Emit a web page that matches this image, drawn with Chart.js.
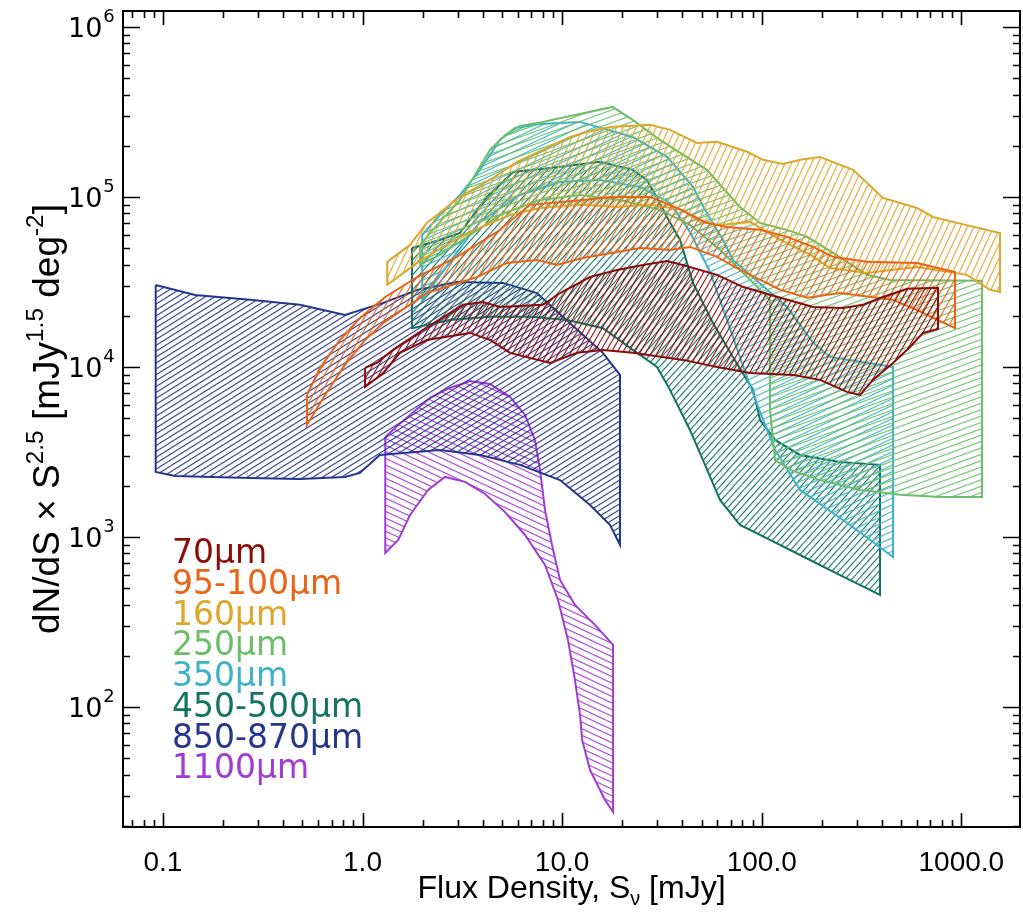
<!DOCTYPE html>
<html><head><meta charset="utf-8">
<script src="https://cdn.jsdelivr.net/npm/chart.js@4.4.1/dist/chart.umd.min.js"></script>
<style>html,body{margin:0;padding:0;background:#fff}</style>
</head><body>
<canvas id="c" width="1023" height="915"></canvas>
<script>
// ---------- data (flux density mJy, dN/dS*S^2.5) ----------
const xTickValues = [0.1, 1, 10, 100, 1000];
const xTickLabels = ['0.1', '1.0', '10.0', '100.0', '1000.0'];
const yTickValues = [1e2, 1e3, 1e4, 1e5, 1e6];
const yTickExponents = ['2', '3', '4', '5', '6'];
const seriesLabels = ['70μm', '95-100μm', '160μm', '250μm', '350μm', '450-500μm', '850-870μm', '1100μm'];

const upper70 = [[1.03,9870],[1.18,10560],[1.42,12590],[2.01,16500],[3.19,23200],[4.02,24100],[4.88,22500],[8.02,23200],[9.76,27200],[13.8,33800],[18.8,37200],[25.4,39800],[33.5,42000],[40.3,39800],[59.7,34800],[80.5,29600],[124,25500],[181,22500],[255,22200],[322,23200],[405,25800],[535,28800],[764,29200]];
const lower70 = [[1.03,7630],[1.27,9220],[1.54,12100],[2.10,14400],[3.46,15850],[4.35,14400],[5.48,12100],[8.70,10560],[11.9,12100],[16.0,12590],[22.6,12100],[40.3,11000],[59.7,10000],[87.4,9220],[144,8970],[196,8390],[267,7130],[311,6840],[361,8390],[424,9870],[455,10560],[553,13100],[643,15850],[764,16700]];

const upper100 = [[0.527,6840],[0.612,9870],[0.771,14400],[0.971,19400],[1.30,25800],[1.88,33800],[2.97,44400],[4.72,62200],[6.90,89800],[12.7,96000],[17.4,100000],[27.6,100000],[37.6,86100],[53.2,70300],[67.0,66600],[98.1,64000],[134,58200],[181,50800],[228,44400],[337,41500],[600,40900],[930,36200]];
const lower100 = [[0.527,4560],[0.649,6840],[0.817,10270],[1.03,14400],[1.27,18100],[2.10,27200],[3.75,33800],[5.30,40900],[7.48,42600],[9.43,39800],[12.7,43700],[24.6,50100],[34.7,48800],[43.7,50800],[59.7,44400],[77.8,37200],[124,28400],[169,25500],[247,27200],[378,25500],[455,24800],[600,21600],[930,16900]];

const upper160 = [[1.33,41500],[1.73,52200],[2.10,70300],[3.08,100000],[4.51,129400],[5.94,160700],[8.02,188900],[10.96,225300],[12.7,237800],[17.4,258000],[27.6,265400],[34.7,247900],[47.4,207800],[59.7,210700],[84.4,184200],[101.6,165300],[128,156300],[156,165300],[196,171900],[287,144300],[405,98600],[600,86100],[722,76200],[908,71300],[1563,61400]];
const lower160 = [[1.33,30400],[1.88,40900],[2.74,53600],[3.88,65700],[5.48,78300],[7.75,86100],[12.7,89800],[18.8,87300],[27.6,89800],[40.3,83900],[49.1,71300],[61.8,68400],[87.4,71300],[124,55800],[175,45600],[220,38200],[337,35700],[600,38700],[1067,34800],[1393,28400],[1563,27600]];

const upper250 = [[1.94,52200],[2.44,71300],[3.08,96000],[3.66,134600],[4.35,188900],[5.18,231500],[6.15,261800],[8.02,276200],[11.6,303500],[17.9,338200],[22.6,283800],[30.9,216300],[53.2,144300],[77.8,87300],[98.1,70300],[134,64000],[169,58200],[228,46900],[337,34800],[439,32500],[1270,32100]];
const lower250 = [[1.94,39800],[2.44,45600],[3.46,59700],[4.88,78300],[7.75,96000],[12.3,102700],[19.5,96000],[30.9,83900],[43.7,68400],[61.8,48800],[87.4,32500],[110,24800],[110,5590],[116.6,2840],[139,2480],[196,2160],[311,1890],[493,1770],[782,1720],[1270,1720]];

const upper350 = [[1.99,59700],[2.44,78300],[3.08,102700],[3.88,144300],[4.88,216300],[5.81,254600],[7.75,268700],[12.3,276200],[22.6,225300],[33.5,171900],[45.3,114500],[52.0,83900],[64.0,55800],[71.8,42600],[134,22500],[181,13850],[220,11450],[455,10000]];
const lower350 = [[1.99,24800],[2.74,41500],[3.88,71300],[6.15,102700],[9.76,122400],[15.5,125900],[24.6,114500],[34.7,92200],[43.7,62200],[55.1,36200],[67.0,18900],[82.5,9350],[98.1,5430],[116.6,3250],[155.6,1890],[277,1176],[455,762]];

const upper500 = [[1.77,50100],[2.44,55800],[3.08,61400],[4.20,100000],[5.68,140300],[8.70,148100],[15.5,160700],[22.6,144300],[26.6,125900],[30.9,92200],[33.5,76200],[39.0,55800],[45.3,31200],[57.0,18100],[71.8,11450],[90.5,7330],[98.1,4875],[116.6,3720],[155.6,3035],[246.8,2760],[391.5,2655]];
const lower500 = [[1.77,16900],[2.74,18900],[4.35,19700],[6.90,19700],[10.6,18900],[16.0,16900],[22.6,12590],[29.9,10000],[34.7,7330],[43.7,4260],[52.0,2655],[61.8,1650],[77.8,1176],[110,960],[155.6,783],[246.8,597],[391.5,456]];

const upper850 = [[0.092,30300],[0.145,26500],[0.273,24800],[0.486,23200],[0.817,20200],[1.27,23800],[1.88,28400],[2.97,31600],[5.06,31200],[7.48,27200],[10.1,19700],[16.0,12100],[19.5,8970]];
const lower850 = [[0.092,2410],[0.115,2285],[0.273,2225],[0.486,2190],[0.817,2255],[0.971,2380],[1.22,3035],[2.44,3250],[3.88,3035],[6.15,2655],[9.76,2160],[13.8,1540],[17.4,1176],[19.5,898]];

const upper1100 = [[1.30,3875],[1.51,4560],[1.73,5220],[2.18,6580],[2.74,7520],[3.46,8270],[4.35,7940],[5.48,6670],[6.52,5220],[7.31,3720],[7.75,2480],[8.21,1440],[8.90,898],[9.76,559],[11.6,398],[14.6,304],[18.0,232]];
const lower1100 = [[1.30,805],[1.51,960],[1.73,1347],[2.13,1890],[2.59,2255],[3.26,2110],[4.11,1790],[5.18,1400],[6.52,1027],[8.21,684],[9.54,426],[10.7,248],[11.6,144],[12.3,89.7],[12.6,64],[13.8,42.6],[16.4,28.4],[18.0,24.1]];

// ---------- styles ----------
const bandColors = ['#8c0b0b', '#ea6417', '#dda72b', '#6cbf68', '#3fb2c9', '#147363', '#25378c', '#a13bd6'];
const hatchAngles = [60, 60, 65, 20, 25, 48, 32, -25];
const hatchGaps = [5, 6, 6, 6, 6, 5, 5, 6];

const bands = [[upper70, lower70], [upper100, lower100], [upper160, lower160], [upper250, lower250],
  [upper350, lower350], [upper500, lower500], [upper850, lower850], [upper1100, lower1100]];

function polygon(u, l) {
  return u.concat(l.slice().reverse(), [u[0]]).map(([x, y]) => ({x, y}));
}
function hatch(color, angle, gap) {
  const t = document.createElement('canvas');
  t.width = 16; t.height = gap;
  const g = t.getContext('2d');
  g.fillStyle = color;
  g.fillRect(0, 0, 16, 1.1);
  const p = g.createPattern(t, 'repeat');
  p.setTransform(new DOMMatrix().rotateSelf(-angle));
  return p;
}

function drawRuns(ctx, runs, size, family, cx, cy, supScale) {
  const fs = m => (m ? size * supScale : size) + 'px ' + family;
  const widths = runs.map(([t, m]) => { ctx.font = fs(m); return ctx.measureText(t).width; });
  const total = widths.reduce((a, b) => a + b, 0);
  let x = cx - total / 2;
  runs.forEach(([t, m], i) => {
    ctx.font = fs(m);
    const dy = m === 1 ? -size * 0.42 : (m === -1 ? size * 0.22 : 0);
    ctx.fillText(t, x, cy + dy);
    x += widths[i];
  });
}

const framePlugin = {
  id: 'frame',
  afterDraw(chart) {
    const {ctx, chartArea: a, scales: {x, y}} = chart;
    ctx.save();
    ctx.strokeStyle = '#000';
    ctx.lineWidth = 1.6;
    ctx.beginPath();
    for (let e = -2; e <= 3; e++) for (let m = 1; m <= 9; m++) {
      const v = m * Math.pow(10, e);
      if (v < x.min || v > x.max) continue;
      const px = Math.round(x.getPixelForValue(v)) + 0.5;
      const len = m === 1 ? 14 : 7;
      ctx.moveTo(px, a.bottom); ctx.lineTo(px, a.bottom - len);
      ctx.moveTo(px, a.top); ctx.lineTo(px, a.top + len);
    }
    for (let e = 1; e <= 6; e++) for (let m = 1; m <= 9; m++) {
      const v = m * Math.pow(10, e);
      if (v < y.min || v > y.max) continue;
      const py = Math.round(y.getPixelForValue(v)) + 0.5;
      const len = m === 1 ? 17 : 7;
      ctx.moveTo(a.left, py); ctx.lineTo(a.left + len, py);
      ctx.moveTo(a.right, py); ctx.lineTo(a.right - len, py);
    }
    ctx.stroke();
    ctx.lineWidth = 2;
    ctx.strokeRect(a.left, a.top, a.right - a.left, a.bottom - a.top);

    ctx.fillStyle = '#000';
    ctx.textBaseline = 'alphabetic';

    // x tick labels
    ctx.font = '28px Liberation Sans';
    ctx.textAlign = 'center';
    xTickValues.forEach((v, i) => {
      ctx.fillText(xTickLabels[i], x.getPixelForValue(v), 871);
    });
    // y tick labels
    ctx.textAlign = 'left';
    yTickValues.forEach((v, i) => {
      const py = y.getPixelForValue(v);
      ctx.font = '27px DejaVu Sans';
      ctx.fillText('10', 68, py + 10);
      const w = ctx.measureText('10').width;
      ctx.font = '18px DejaVu Sans';
      ctx.fillText(yTickExponents[i], 68 + w + 1, py - 5);
    });

    // axis titles
    ctx.textAlign = 'left';
    drawRuns(ctx, [['Flux Density, S', 0], ['ν', -1], [' [mJy]', 0]], 32, 'Liberation Sans', (a.left + a.right) / 2, 898, 0.62);
    ctx.save();
    ctx.translate(59, (a.top + a.bottom) / 2);
    ctx.rotate(-Math.PI / 2);
    drawRuns(ctx, [['dN/dS × S', 0], ['2.5', 1], [' [mJy', 0], ['1.5', 1], [' deg', 0], ['-2', 1], [']', 0]], 37, 'Liberation Sans', 0, 0, 0.66);
    ctx.restore();

    // legend text
    ctx.font = '33px DejaVu Sans';
    seriesLabels.forEach((s, i) => {
      ctx.fillStyle = bandColors[i];
      ctx.fillText(s, 172, 563.3 + i * 30.7);
    });
    ctx.restore();
  }
};

new Chart(document.getElementById('c'), {
  type: 'line',
  data: {
    datasets: bands.map((b, i) => ({
      label: seriesLabels[i],
      data: polygon(b[0], b[1]),
      borderColor: bandColors[i],
      backgroundColor: hatch(bandColors[i], hatchAngles[i], hatchGaps[i]),
      borderWidth: 2,
      pointRadius: 0,
      tension: 0,
      fill: 'shape'
    }))
  },
  options: {
    responsive: false,
    animation: false,
    devicePixelRatio: 1,
    layout: {padding: {left: 0, right: 3, top: 11, bottom: 0}},
    plugins: {legend: {display: false}, tooltip: {enabled: false}},
    scales: {
      x: {
        type: 'logarithmic', position: 'bottom',
        min: 0.0631, max: 1968,
        afterBuildTicks: s => { s.ticks = xTickValues.map(v => ({value: v, major: true})); },
        afterFit: s => { s.height = 88; s.paddingLeft = 0; s.paddingRight = 0; },
        grid: {display: false, drawTicks: false},
        border: {display: false},
        ticks: {display: false}
      },
      y: {
        type: 'logarithmic', position: 'left',
        min: 19.68, max: 1.24e6,
        afterBuildTicks: s => { s.ticks = yTickValues.map(v => ({value: v, major: true})); },
        afterFit: s => { s.width = 123; s.paddingTop = 0; s.paddingBottom = 0; },
        grid: {display: false, drawTicks: false},
        border: {display: false},
        ticks: {display: false}
      }
    }
  },
  plugins: [framePlugin]
});
</script>
</body></html>
